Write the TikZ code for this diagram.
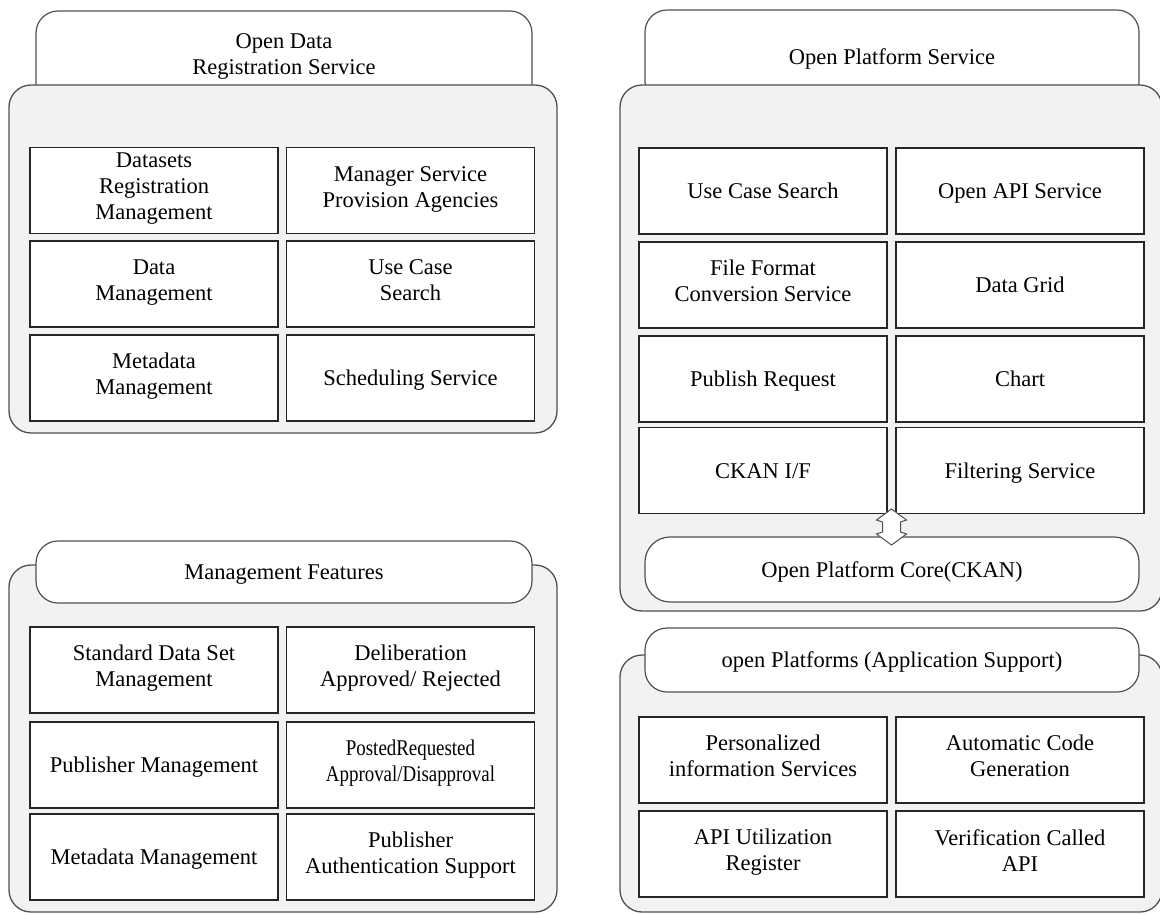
\documentclass[tikz,border=0pt]{standalone}
\usepackage{xcolor}
\usepackage{graphicx}
\usepackage{fontspec}
\setmainfont{Liberation Serif}[Ligatures=TeX]
\newfontfamily\diagfont{Liberation Serif}
\usepackage{tikz}

\definecolor{panelgray}{HTML}{F2F2F2}
\definecolor{edgegray}{HTML}{505050}

\begin{document}
\begin{tikzpicture}[x=1pt,y=-1pt,
    panel/.style={draw=edgegray,line width=1.3pt,fill=panelgray,rounded corners=22pt,inner sep=0pt},
    tab/.style={draw=edgegray,line width=1.2pt,fill=white,rounded corners=22pt,inner sep=0pt,align=center,
        font=\diagfont\fontsize{22.5}{26}\selectfont,
        execute at begin node=\rule{0pt}{23pt},execute at end node=\strut},
    cell/.style={draw=black!85,line width=1.2pt,fill=white,minimum width=248pt,minimum height=86pt,
        inner sep=0pt,align=center,font=\diagfont\fontsize{22.5}{26}\selectfont,
        execute at begin node=\rule{0pt}{23pt},execute at end node=\strut},
    linkarrow/.style={draw=edgegray,line width=1pt,fill=white,line join=miter}]
                \useasboundingbox (0,0) rectangle (1160,914);
                % open data registration service
                \node[tab,minimum width=496pt,minimum height=94pt] (regtab) at (284,58) {Open Data\\Registration Service};
                \node[panel,minimum width=548pt,minimum height=348pt] (regpanel) at (283,259) {};
                \node[cell] (datasets) at (154,190.5) {Datasets\\Registration\\Management};
                \node[cell] (agencies) at (410.5,190.5) {Manager Service\\Provision Agencies};
                \node[cell] (datamgmt) at (154,284) {Data\\Management};
                \node[cell] (usecase) at (410.5,284) {Use Case\\Search};
                \node[cell] (metamgmt) at (154,378) {Metadata\\Management};
                \node[cell] (schedule) at (410.5,378) {Scheduling Service};
                % open platform service
                \node[tab,minimum width=494pt,minimum height=94pt] (opstab) at (892,57) {Open Platform Service};
                \node[panel,minimum width=542pt,minimum height=526pt] (opspanel) at (891,348) {};
                \node[cell] (opsearch) at (763,191) {Use Case Search};
                \node[cell] (openapi) at (1020,191) {Open API Service};
                \node[cell] (convert) at (763,285) {File Format\\Conversion Service};
                \node[cell] (grid) at (1020,285) {Data Grid};
                \node[cell] (publish) at (763,379) {Publish Request};
                \node[cell] (chart) at (1020,379) {Chart};
                \node[cell] (ckanif) at (763,470.5) {CKAN I/F};
                \node[cell] (filter) at (1020,470.5) {Filtering Service};
                \node[tab,minimum width=494pt,minimum height=65pt,rounded corners=25pt] (core) at (892,569.5) {Open Platform Core(CKAN)};
                \coordinate (link) at (891.5,527);
                \draw[linkarrow] (link) ++(0,-18) -- ++(15,11) -- ++(-6,2) -- ++(0,10) -- ++(6,2)
                    -- ++(-15,11) -- ++(-15,-11) -- ++(6,-2) -- ++(0,-10) -- ++(-6,-2) -- cycle;
                % management features
                \node[panel,minimum width=548pt,minimum height=347pt] (mgmtpanel) at (283,738.5) {};
                \node[tab,minimum width=496pt,minimum height=62pt] (mgmttab) at (284,572) {Management Features};
                \node[cell] (standard) at (154,670) {Standard Data Set\\Management};
                \node[cell] (deliberate) at (410.5,670) {Deliberation\\Approved/ Rejected};
                \node[cell] (publisher) at (154,765) {Publisher Management};
                \node[cell] (posted) at (410.5,765) {\scalebox{0.84}[1]{PostedRequested}\\\scalebox{0.84}[1]{Approval/Disapproval}};
                \node[cell] (metadata) at (154,857) {Metadata Management};
                \node[cell] (authsupport) at (410.5,857) {Publisher\\Authentication Support};
                % application support
                \node[panel,minimum width=542pt,minimum height=257pt] (apppanel) at (891,783.5) {};
                \node[tab,minimum width=494pt,minimum height=64pt] (apptab) at (892,660) {open Platforms (Application Support)};
                \node[cell] (personal) at (763,760) {Personalized\\information Services};
                \node[cell] (codegen) at (1020,760) {Automatic Code\\Generation};
                \node[cell] (apiuse) at (763,854) {API Utilization\\Register};
                \node[cell] (verify) at (1020,854) {Verification Called\\API};
            \end{tikzpicture}
\end{document}
